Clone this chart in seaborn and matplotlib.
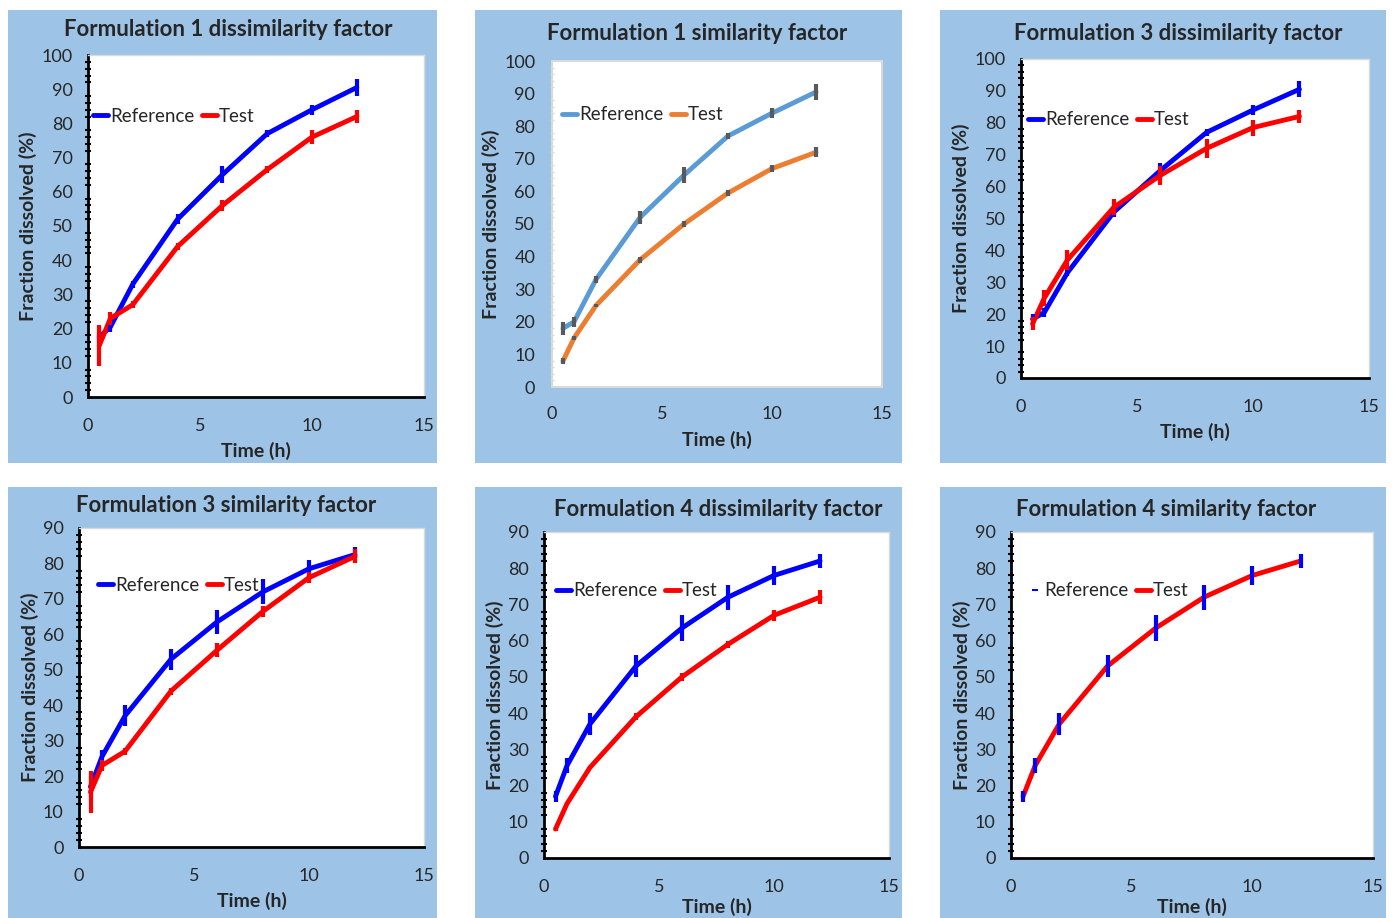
import matplotlib
matplotlib.use("Agg")
import matplotlib.pyplot as plt
from matplotlib.lines import Line2D
from matplotlib.patches import Rectangle
import seaborn as sns
import pandas as pd

sns.set_style("white")
plt.rcParams['font.family'] = ['Lato', 'DejaVu Sans']

W, H = 1393, 918

time_h = [0.5, 1, 2, 4, 6, 8, 10, 12]

# panel data
f1_dis_ref = [17.5, 20.5, 33, 52, 65, 77, 84, 90.5]
f1_dis_ref_err = [1.5, 1.5, 1, 1.5, 2.5, 1, 1.5, 2.5]
f1_dis_test = [15, 23, 27, 44, 56, 66.5, 76, 82]
f1_dis_test_err = [6, 2, 1, 1, 1.5, 1, 2, 2]

f1_sim_ref = [18, 20, 33, 52, 65, 77, 84, 90.5]
f1_sim_ref_err = [2, 1.5, 1, 2, 2.5, 1, 1.5, 2.5]
f1_sim_test = [8, 15, 25, 39, 50, 59.5, 67, 72]
f1_sim_test_err = [1, 0.5, 0.5, 1, 1, 1, 1, 1.5]

f3_dis_ref = [18.5, 20.5, 33, 52, 65, 77, 84, 90.5]
f3_dis_ref_err = [1.5, 1.5, 1, 1.5, 2.5, 1, 1.5, 2.5]
f3_dis_test = [17, 25, 37, 53.5, 63.5, 72, 78.5, 82]
f3_dis_test_err = [2, 2.5, 3, 2.5, 3, 3, 2.5, 2]

f3_sim_ref = [17, 25.5, 37, 53, 63.5, 72, 78.5, 82.5]
f3_sim_ref_err = [3, 2, 3, 3, 3.5, 3.5, 2.5, 2]
f3_sim_test = [15.5, 23, 27, 44, 55.5, 66.5, 76, 82]
f3_sim_test_err = [6, 1.5, 1, 1, 2, 1.5, 1.5, 2]

f4_dis_ref = [17, 25.5, 37, 53, 63.5, 72, 78, 82]
f4_dis_ref_err = [1.5, 2, 3, 3, 3.5, 3.5, 2.5, 2]
f4_dis_test = [8, 15, 25, 39, 50, 59, 67, 72]
f4_dis_test_err = [0.5, 0.5, 0.5, 1, 1, 1, 1.5, 2]

f4_sim_ref = [17, 25.5, 37, 53, 63.5, 72, 78, 82]
f4_sim_ref_err = [1.5, 2, 3, 3, 3.5, 3.5, 2.5, 2]
f4_sim_test = [17, 25.5, 37, 53, 63.5, 72, 78, 82]
f4_sim_test_err = [0, 0, 0, 0, 0, 0, 0, 0]

titles = ["Formulation 1 dissimilarity factor", "Formulation 1 similarity factor",
          "Formulation 3 dissimilarity factor", "Formulation 3 similarity factor",
          "Formulation 4 dissimilarity factor", "Formulation 4 similarity factor"]
y_max = [100, 100, 100, 90, 90, 90]

BOX = '#9DC3E6'
BLUE, RED = '#0000FF', '#FF0000'
LBLUE, ORANGE, GREY = '#5B9BD5', '#ED7D31', '#595959'

# pixel layout: panel box, axes box, title centre, legend anchor, xlabel pad
panels = [
    dict(box=(8, 10, 437, 463), ax=(88, 55, 424, 397), title=(228, 29), leg=(0.015, 0.82), xpad=6),
    dict(box=(475, 10, 902, 463), ax=(552, 61, 882, 387), title=(697, 33), leg=(0.03, 0.835), xpad=6),
    dict(box=(940, 10, 1386, 463), ax=(1021, 59, 1369, 378), title=(1178, 33), leg=(0.02, 0.81), xpad=6),
    dict(box=(8, 487, 437, 918), ax=(79, 528, 424, 847), title=(226, 505), leg=(0.055, 0.82), xpad=6),
    dict(box=(475, 487, 902, 918), ax=(544, 532, 889, 858), title=(718, 510), leg=(0.035, 0.82), xpad=2),
    dict(box=(940, 487, 1386, 918), ax=(1011, 532, 1373, 858), title=(1166, 510), leg=(0.045, 0.82), xpad=2),
]

series = [
    (f1_dis_ref, f1_dis_ref_err, f1_dis_test, f1_dis_test_err, BLUE, RED, BLUE, RED),
    (f1_sim_ref, f1_sim_ref_err, f1_sim_test, f1_sim_test_err, LBLUE, ORANGE, GREY, GREY),
    (f3_dis_ref, f3_dis_ref_err, f3_dis_test, f3_dis_test_err, BLUE, RED, BLUE, RED),
    (f3_sim_ref, f3_sim_ref_err, f3_sim_test, f3_sim_test_err, BLUE, RED, BLUE, RED),
    (f4_dis_ref, f4_dis_ref_err, f4_dis_test, f4_dis_test_err, BLUE, RED, BLUE, RED),
    (f4_sim_ref, f4_sim_ref_err, f4_sim_test, f4_sim_test_err, BLUE, RED, BLUE, RED),
]


def frac(x0, y0, x1, y1):
    return [x0 / W, 1 - y1 / H, (x1 - x0) / W, (y1 - y0) / H]


fig = plt.figure(figsize=(W / 100, H / 100), dpi=100)
fig.patch.set_facecolor('white')

for i, (p, s) in enumerate(zip(panels, series)):
    ref, ref_err, test, test_err, c_ref, c_test, e_ref, e_test = s
    l, b, w, h = frac(*p['box'])
    fig.add_artist(Rectangle((l, b), w, h, transform=fig.transFigure,
                             facecolor=BOX, edgecolor='none', zorder=0))
    ax = fig.add_axes(frac(*p['ax']))
    ax.set_facecolor('white')

    df = pd.DataFrame({'t': time_h, 'ref': ref, 'test': test})
    only_err = (i == 5)
    if not only_err:
        sns.lineplot(data=df, x='t', y='ref', color=c_ref, lw=3.5, ax=ax, zorder=3)
    sns.lineplot(data=df, x='t', y='test', color=c_test, lw=3.5, ax=ax, zorder=4)
    ax.errorbar(time_h, ref, yerr=ref_err, fmt='none', ecolor=e_ref, elinewidth=3,
                capsize=0, zorder=5)
    if i != 5:
        ax.errorbar(time_h, test, yerr=test_err, fmt='none', ecolor=e_test, elinewidth=3,
                    capsize=0, zorder=5)

    ax.set_xlim(0, 15)
    ax.set_ylim(0, y_max[i])
    ax.set_xticks([0, 5, 10, 15])
    ax.set_yticks(range(0, y_max[i] + 1, 10))
    ax.set_yticks(range(0, y_max[i] + 1, 2), minor=True)

    if i == 1:
        for sp in ax.spines.values():
            sp.set_color('#D9D9D9')
            sp.set_linewidth(1.5)
        ax.tick_params(axis='both', which='major', direction='inout', length=6,
                       width=1.2, color='#D9D9D9', labelsize=13, pad=9)
        ax.tick_params(axis='y', which='minor', direction='inout', length=3,
                       width=1, color='#D9D9D9', left=True)
    else:
        for sp in ['top', 'right']:
            ax.spines[sp].set_color('#D9D9D9')
            ax.spines[sp].set_linewidth(1)
        for sp in ['left', 'bottom']:
            ax.spines[sp].set_color('black')
            ax.spines[sp].set_linewidth(2)
        ax.tick_params(axis='both', which='major', direction='inout', length=8,
                       width=1.8, color='black', labelsize=13, pad=7)
        ax.tick_params(axis='y', which='minor', direction='inout', length=4,
                       width=1.5, color='black', left=True)
    ax.tick_params(axis='x', which='major', pad=11)

    ax.set_xlabel('Time (h)', fontsize=14, fontweight='bold', labelpad=p['xpad'])
    ax.set_ylabel('Fraction dissolved (%)', fontsize=14, fontweight='bold', labelpad=3)

    tx, ty = p['title']
    fig.text(tx / W, 1 - ty / H, titles[i], ha='center', va='center',
             fontsize=16, fontweight='bold')

    if only_err:
        h_ref = Line2D([], [], color=c_ref, marker='_', linestyle='none',
                       markersize=4, markeredgewidth=1.5)
    else:
        h_ref = Line2D([], [], color=c_ref, lw=3.5)
    h_test = Line2D([], [], color=c_test, lw=3.5)
    ax.legend([h_ref, h_test], ['Reference', 'Test'], loc='center left',
              bbox_to_anchor=p['leg'], ncol=2, frameon=False, fontsize=13.5,
              handlelength=0.8, handletextpad=0.1, columnspacing=0.4,
              borderpad=0, borderaxespad=0)

fig.savefig('out.png', dpi=100)
